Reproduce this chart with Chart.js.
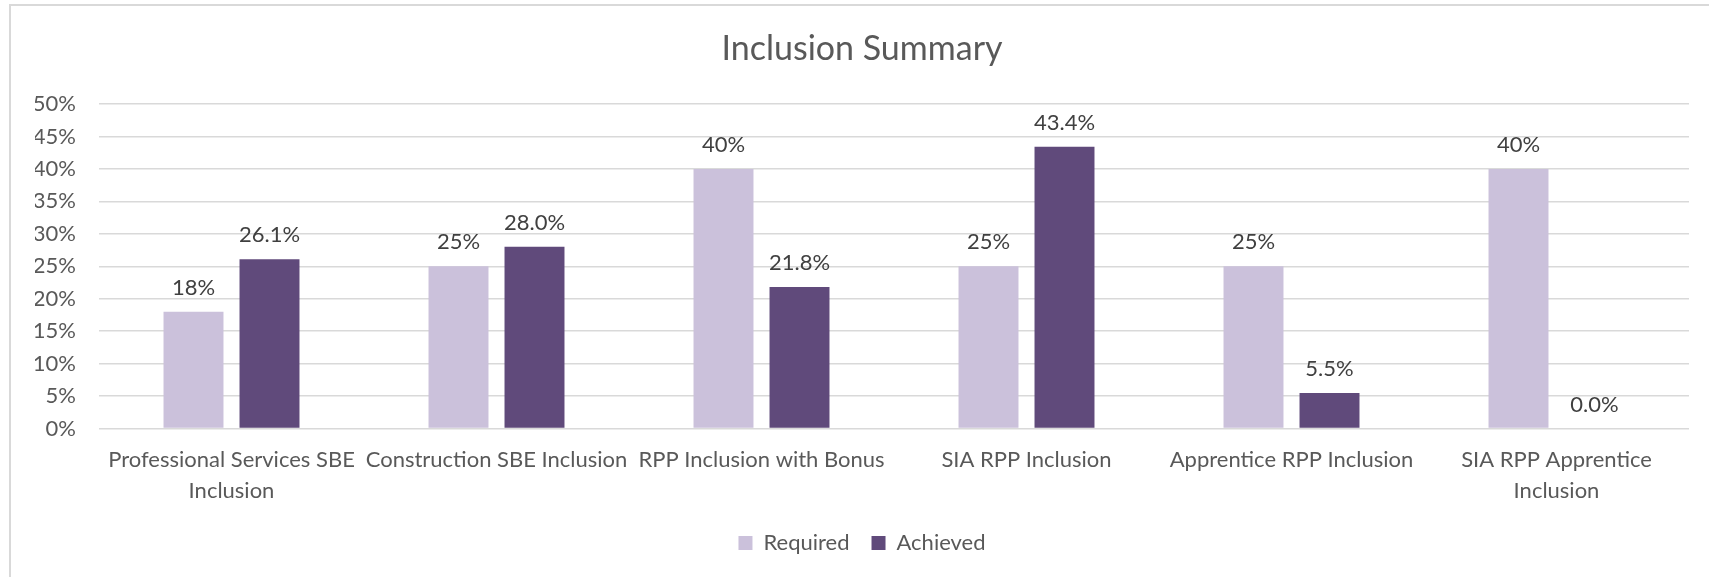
<!DOCTYPE html>
<html>
<head>
<meta charset="utf-8">
<script src="https://cdn.jsdelivr.net/npm/chart.js@4/dist/chart.umd.min.js"></script>
<style>
  html, body { margin: 0; padding: 0; background: #ffffff; overflow: hidden; width: 1709px; height: 577px; }
  #frame { position: absolute; left: 9px; top: 4px; width: 1800px; height: 700px; border: 2px solid #d9d9d9; box-sizing: border-box; }
  #c { position: absolute; left: 0; top: 0; }
</style>
</head>
<body>
<div id="frame"></div>
<canvas id="c" width="1709" height="577"></canvas>
<script>
// ---- data ----
const categories = [
  ["Professional Services SBE", "Inclusion"],
  "Construction SBE Inclusion",
  "RPP Inclusion with Bonus",
  "SIA RPP Inclusion",
  "Apprentice RPP Inclusion",
  ["SIA RPP Apprentice", "Inclusion"]
];
const seriesNames = ["Required", "Achieved"];
const requiredValues = [18, 25, 40, 25, 25, 40];
const achievedValues = [26.1, 28.0, 21.8, 43.4, 5.5, 0.0];
const labelDecimals = [0, 1];
const yTicks = [0, 5, 10, 15, 20, 25, 30, 35, 40, 45, 50];
const titleText = "Inclusion Summary";

const FONT = "Lato, 'Open Sans', 'Liberation Sans', sans-serif";
const TEXT = "#595959";

const dataLabelPlugin = {
  id: "dataLabels",
  afterDatasetsDraw(chart) {
    const ctx = chart.ctx;
    ctx.save();
    ctx.font = "22px " + FONT;
    ctx.fillStyle = "#404040";
    ctx.textAlign = "center";
    ctx.textBaseline = "middle";
    chart.data.datasets.forEach((ds, di) => {
      const meta = chart.getDatasetMeta(di);
      meta.data.forEach((bar, i) => {
        const v = ds.data[i];
        ctx.fillText(v.toFixed(labelDecimals[di]) + "%", bar.x, bar.y - 24);
      });
    });
    ctx.restore();
  }
};

new Chart(document.getElementById("c"), {
  type: "bar",
  data: {
    labels: categories,
    datasets: [
      { label: seriesNames[0], data: requiredValues, backgroundColor: "#cbc1db", borderWidth: 0 },
      { label: seriesNames[1], data: achievedValues, backgroundColor: "#604a7b", borderWidth: 0 }
    ]
  },
  options: {
    responsive: false,
    animation: false,
    devicePixelRatio: 1,
    categoryPercentage: 0.5736,
    barPercentage: 0.789,
    layout: { padding: { left: 35, right: 20, top: 0, bottom: 13 } },
    plugins: {
      title: {
        display: true,
        text: titleText,
        color: TEXT,
        font: { family: FONT, size: 34, weight: "normal", lineHeight: 1.2 },
        padding: { top: 28.6, bottom: 34.6 }
      },
      legend: {
        display: true,
        position: "bottom",
        labels: {
          color: TEXT,
          font: { family: FONT, size: 22 },
          boxWidth: 14,
          boxHeight: 14,
          padding: 22
        }
      },
      tooltip: { enabled: false }
    },
    scales: {
      x: {
        grid: { display: false, drawTicks: false },
        border: { display: false },
        ticks: {
          color: TEXT,
          font: { family: FONT, size: 22, lineHeight: 1.4 },
          padding: 16,
          autoSkip: false,
          maxRotation: 0,
          minRotation: 0
        },
        afterFit(scale) { scale.height = 81.4; }
      },
      y: {
        min: 0,
        max: 50,
        afterBuildTicks(scale) { scale.ticks = yTicks.map(v => ({ value: v })); },
        grid: { color: "#d9d9d9", lineWidth: 1.5, drawTicks: false },
        border: { display: false },
        ticks: {
          color: TEXT,
          font: { family: FONT, size: 22 },
          padding: 23,
          callback: v => v + "%"
        },
        afterFit(scale) { scale.width = 64; }
      }
    }
  },
  plugins: [dataLabelPlugin]
});
</script>
</body>
</html>
